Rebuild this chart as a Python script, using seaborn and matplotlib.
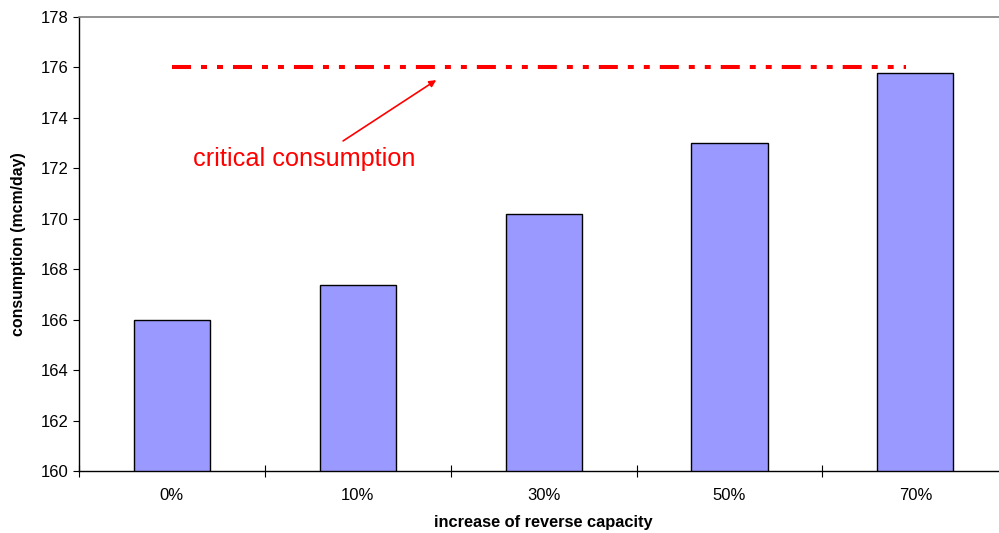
import matplotlib
matplotlib.use("Agg")
import matplotlib.pyplot as plt
import seaborn as sns
import pandas as pd

# Consumption for each increase of reverse capacity
capacity = ["0%", "10%", "30%", "50%", "70%"]
consumption = [166.0, 167.4, 170.2, 173.0, 175.8]
critical_level = 176.0

sns.set_theme(style="white")
plt.rcParams["font.family"] = ["Liberation Sans", "DejaVu Sans"]
plt.rcParams["lines.scale_dashes"] = False
plt.rcParams["text.color"] = "black"
plt.rcParams["axes.labelcolor"] = "black"
plt.rcParams["xtick.color"] = "black"
plt.rcParams["ytick.color"] = "black"

df = pd.DataFrame({"capacity": capacity, "consumption": consumption})

fig = plt.figure(figsize=(9.99, 5.33), dpi=100)
ax = fig.add_axes([79 / 999, 1 - 471.3 / 533, (1008.3 - 79) / 999, (471.3 - 17) / 533])

sns.barplot(data=df, x="capacity", y="consumption", ax=ax, color="#9999FF",
            saturation=1, width=0.41, edgecolor="black", linewidth=1.0)

ax.set_ylim(160, 178)
ax.set_xlim(-0.5, len(capacity) - 0.5)
ax.set_yticks(range(160, 179, 2))

# Critical consumption reference line
line, = ax.plot([0, 3.95], [critical_level, critical_level], color="#FF0000", lw=2.9)
line.set_dashes((13.7, 7.2, 4.3, 7.2, 4.3, 7.2))
line.set_dash_capstyle("butt")

ax.annotate("", xy=(1.422, 175.5), xytext=(0.921, 173.09),
            arrowprops=dict(arrowstyle="-|>", color="#FF0000", lw=1.2,
                            mutation_scale=10, shrinkA=0, shrinkB=0))
ax.text(0.115, 172.38, "critical consumption", color="#FF0000", fontsize=18.2,
        ha="left", va="center")

# Spines
for s in ["left", "bottom"]:
    ax.spines[s].set_color("black")
    ax.spines[s].set_linewidth(1.0)
ax.spines["top"].set_color("#808080")
ax.spines["top"].set_linewidth(1.2)
ax.spines["right"].set_visible(False)

# Ticks
ax.tick_params(axis="y", which="major", direction="out", length=4.5, width=0.8,
               color="black", labelcolor="black", labelsize=12, pad=3, left=True)
ax.tick_params(axis="x", which="major", length=0, labelsize=12, pad=12,
               labelcolor="black")
ax.set_xticks([i + 0.5 for i in range(-1, len(capacity))], minor=True)
ax.tick_params(axis="x", which="minor", direction="inout", length=8, width=0.8,
               color="black", bottom=True)

ax.set_xlabel("increase of reverse capacity", fontsize=11.8, fontweight="bold",
              color="black")
ax.set_ylabel("consumption (mcm/day)", fontsize=11.4, fontweight="bold",
              color="black")
ax.xaxis.set_label_coords(0.5, -(523 - 471.3) / (471.3 - 17), transform=ax.transAxes)
ax.yaxis.set_label_coords(-(79 - 19) / (1008.3 - 79), 0.5, transform=ax.transAxes)
ax.xaxis.label.set_va("center")
ax.yaxis.label.set_va("center")
ax.grid(False)

fig.savefig("out.png", dpi=100)
